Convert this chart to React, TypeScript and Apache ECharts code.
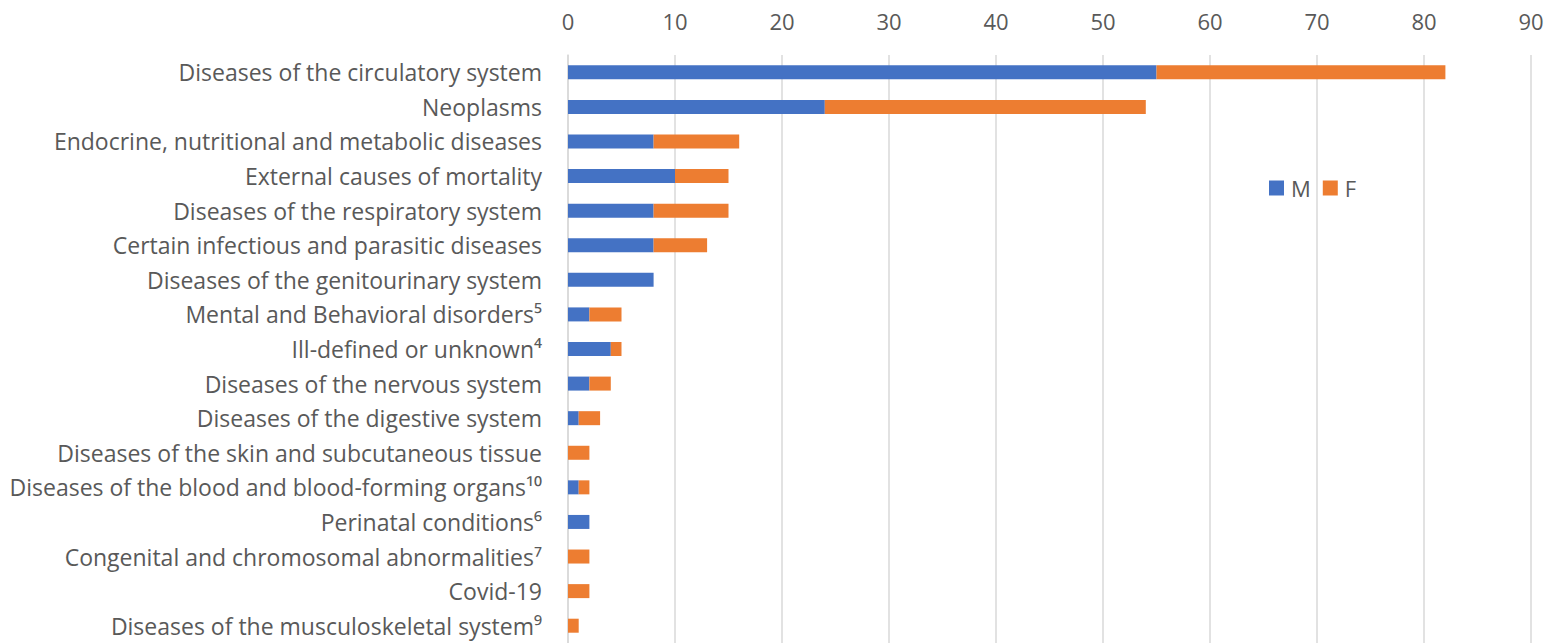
import React, { useEffect, useRef } from "react";
import * as echarts from "echarts";

const categories = [
  "Diseases of the circulatory system",
  "Neoplasms",
  "Endocrine, nutritional and metabolic diseases",
  "External causes of mortality",
  "Diseases of the respiratory system",
  "Certain infectious and parasitic diseases",
  "Diseases of the genitourinary system",
  "Mental and Behavioral disorders⁵",
  "Ill-defined or unknown⁴",
  "Diseases of the nervous system",
  "Diseases of the digestive system",
  "Diseases of the skin and subcutaneous tissue",
  "Diseases of the blood and blood-forming organs¹⁰",
  "Perinatal conditions⁶",
  "Congenital and chromosomal abnormalities⁷",
  "Covid-19",
  "Diseases of the musculoskeletal system⁹",
];

const maleValues = [55, 24, 8, 10, 8, 8, 8, 2, 4, 2, 1, 0, 1, 2, 0, 0, 0];
const femaleValues = [27, 30, 8, 5, 7, 5, 0, 3, 1, 2, 2, 2, 1, 0, 2, 2, 1];

const xMin = 0;
const xMax = 90;
const xInterval = 10;

const FONT = "'Open Sans', sans-serif";
const TEXT = "#595959";

export default function App() {
  const ref = useRef<HTMLDivElement>(null);

  useEffect(() => {
    if (!ref.current) return;
    const chart = echarts.init(ref.current, undefined, { renderer: "svg" });
    chart.setOption({
      animation: false,
      backgroundColor: "#ffffff",
      textStyle: { fontFamily: FONT },
      legend: {
        data: ["M", "F"],
        left: 1269,
        top: 177,
        padding: 0,
        itemWidth: 15,
        itemHeight: 15,
        itemGap: 12,
        icon: "rect",
        textStyle: { color: TEXT, fontSize: 22, fontFamily: FONT, padding: [0, 0, 0, 2] },
      },
      grid: {
        left: 568,
        right: 18,
        top: 55,
        height: 590,
        containLabel: false,
      },
      xAxis: {
        type: "value",
        position: "top",
        min: xMin,
        max: xMax,
        interval: xInterval,
        axisLine: { show: false },
        axisTick: { show: false },
        axisLabel: { color: TEXT, fontSize: 22, fontFamily: FONT, margin: 23 },
        splitLine: { show: true, lineStyle: { color: "#D9D9D9", width: 1.5 } },
      },
      yAxis: {
        type: "category",
        data: categories,
        inverse: true,
        axisLine: { show: true, lineStyle: { color: "#D9D9D9", width: 1.5 } },
        axisTick: { show: false },
        axisLabel: { color: TEXT, fontSize: 23, fontFamily: FONT, margin: 26 },
      },
      series: [
        {
          name: "M",
          type: "bar",
          stack: "total",
          data: maleValues,
          barWidth: 14,
          itemStyle: { color: "#4472C4" },
        },
        {
          name: "F",
          type: "bar",
          stack: "total",
          data: femaleValues,
          barWidth: 14,
          itemStyle: { color: "#ED7D31" },
        },
      ],
    });
    return () => chart.dispose();
  }, []);

  return (
    <div
      ref={ref}
      style={{ position: "absolute", left: 0, top: 0, width: 1549, height: 643 }}
    />
  );
}
